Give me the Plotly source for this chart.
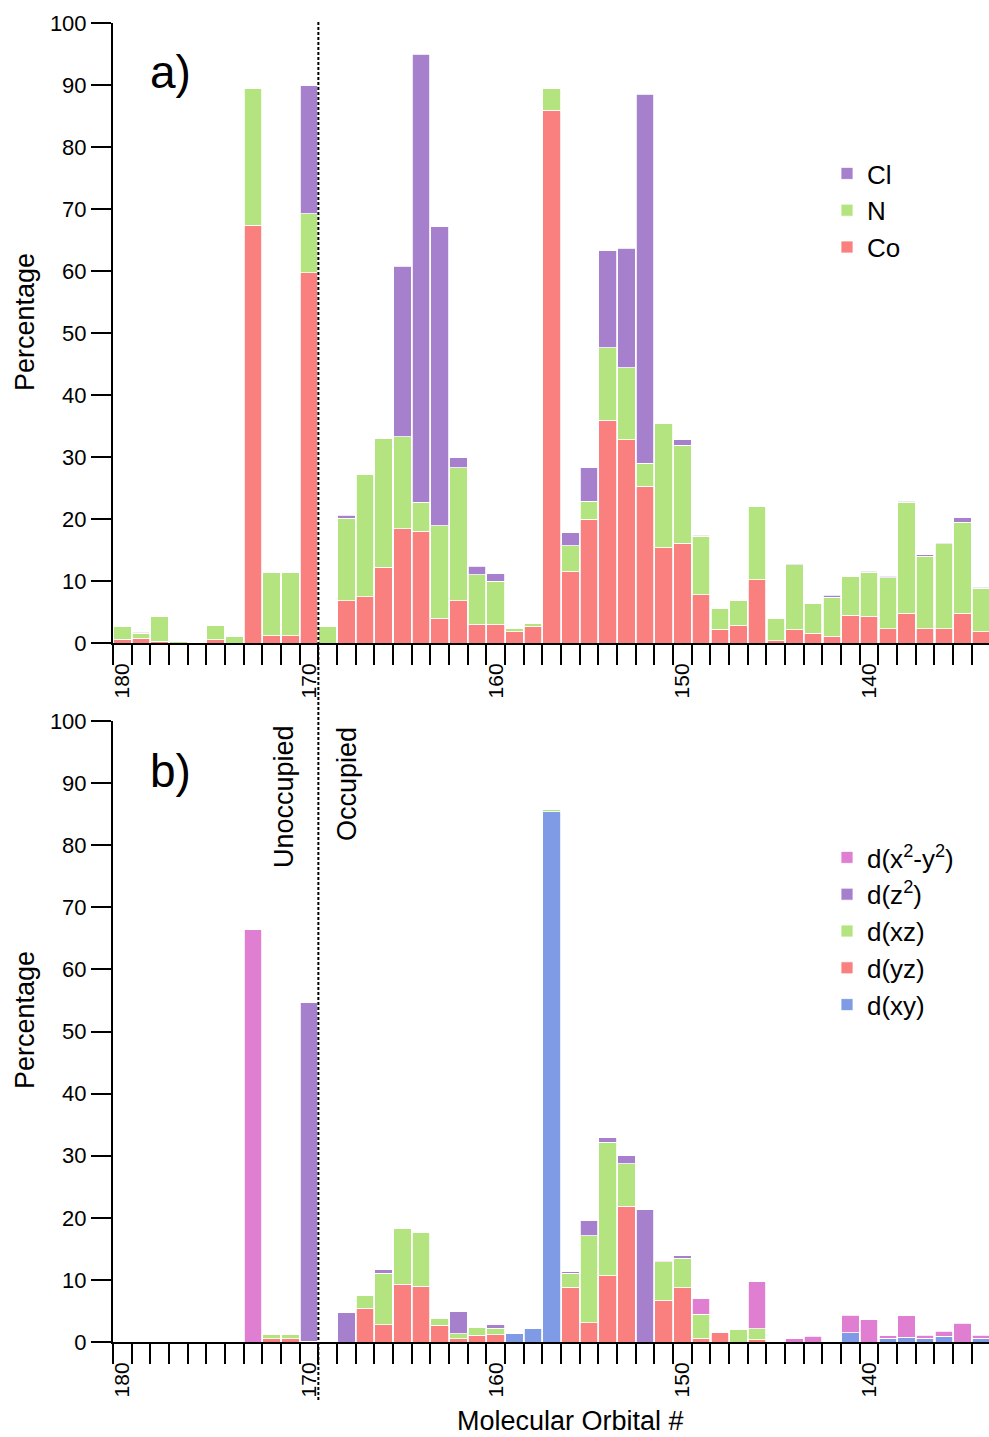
import plotly.graph_objects as go

# ---------------- data ----------------
mo = list(range(180, 133, -1))  # 180 ... 134

# panel a: atomic contributions (stacked segments, %)
co = [0.6, 0.8, 0.3, 0.0, 0.0, 0.5, 0.0, 67.4, 1.2, 1.2,
      59.7, 0.0, 6.8, 7.5, 12.2, 18.4, 18.0, 4.0, 6.8, 3.0,
      3.0, 1.8, 2.7, 85.9, 11.5, 20.0, 35.9, 32.8, 25.3, 15.4,
      16.1, 7.8, 2.2, 2.8, 10.2, 0.4, 2.1, 1.6, 1.1, 4.5,
      4.3, 2.3, 4.8, 2.3, 2.3, 4.8, 1.8]
n = [2.1, 0.8, 4.0, 0.2, 0.1, 2.4, 1.0, 22.0, 10.1, 10.1,
     9.5, 2.6, 13.3, 19.7, 20.8, 14.9, 4.7, 14.9, 21.5, 8.0,
     7.0, 0.5, 0.5, 3.6, 4.2, 2.9, 11.7, 11.6, 3.7, 20.0,
     15.8, 9.4, 3.4, 4.1, 11.8, 3.6, 10.5, 4.7, 6.3, 6.3,
     7.1, 8.2, 17.9, 11.7, 13.7, 14.7, 7.0]
cl = [0.0, 0.1, 0.0, 0.0, 0.0, 0.0, 0.0, 0.0, 0.0, 0.0,
      20.7, 0.0, 0.5, 0.0, 0.0, 27.5, 72.3, 48.2, 1.6, 1.4,
      1.2, 0.0, 0.0, 0.0, 2.1, 5.4, 15.7, 19.3, 59.5, 0.0,
      0.9, 0.2, 0.0, 0.0, 0.0, 0.0, 0.2, 0.0, 0.3, 0.0,
      0.2, 0.3, 0.2, 0.2, 0.2, 0.7, 0.2]

# panel b: Co d-orbital contributions (stacked segments, %)
d_xy = [0.0, 0.0, 0.0, 0.0, 0.0, 0.0, 0.0, 0.0, 0.0, 0.0,
        0.0, 0.0, 0.0, 0.0, 0.0, 0.0, 0.0, 0.0, 0.0, 0.0,
        0.0, 1.4, 2.2, 85.4, 0.0, 0.0, 0.0, 0.0, 0.0, 0.0,
        0.0, 0.0, 0.0, 0.0, 0.0, 0.0, 0.0, 0.0, 0.0, 1.5,
        0.0, 0.6, 0.75, 0.6, 0.9, 0.0, 0.6]
d_yz = [0.0, 0.0, 0.0, 0.0, 0.0, 0.1, 0.0, 0.0, 0.5, 0.5,
        0.1, 0.0, 0.0, 5.4, 2.8, 9.3, 9.0, 2.7, 0.5, 1.1,
        1.2, 0.0, 0.0, 0.0, 8.8, 3.1, 10.7, 21.9, 0.0, 6.7,
        8.7, 0.6, 1.5, 0.0, 0.4, 0.0, 0.0, 0.0, 0.0, 0.0,
        0.0, 0.0, 0.0, 0.0, 0.0, 0.0, 0.0]
d_xz = [0.0, 0.0, 0.1, 0.0, 0.0, 0.0, 0.0, 0.0, 0.7, 0.7,
        0.0, 0.0, 0.0, 2.1, 8.3, 8.9, 8.6, 1.1, 0.8, 1.3,
        1.0, 0.0, 0.0, 0.4, 2.3, 14.0, 21.5, 6.8, 0.0, 6.2,
        4.8, 3.9, 0.0, 2.0, 1.7, 0.0, 0.0, 0.0, 0.0, 0.0,
        0.0, 0.0, 0.0, 0.0, 0.0, 0.0, 0.0]
d_z2 = [0.0, 0.0, 0.0, 0.0, 0.0, 0.0, 0.0, 0.0, 0.0, 0.0,
        54.5, 0.0, 4.8, 0.0, 0.5, 0.0, 0.0, 0.0, 3.6, 0.0,
        0.6, 0.0, 0.0, 0.0, 0.3, 2.5, 0.7, 1.4, 21.3, 0.0,
        0.5, 0.0, 0.0, 0.0, 0.0, 0.0, 0.0, 0.0, 0.0, 0.0,
        0.0, 0.0, 0.0, 0.0, 0.0, 0.0, 0.0]
d_x2y2 = [0.0, 0.0, 0.0, 0.0, 0.0, 0.0, 0.0, 66.4, 0.0, 0.0,
          0.0, 0.0, 0.0, 0.0, 0.0, 0.0, 0.0, 0.0, 0.0, 0.0,
          0.0, 0.0, 0.0, 0.0, 0.0, 0.0, 0.0, 0.0, 0.0, 0.2,
          0.0, 2.5, 0.0, 0.0, 7.6, 0.0, 0.5, 0.9, 0.0, 2.8,
          3.6, 0.4, 3.45, 0.5, 0.8, 3.0, 0.5]

tick_vals = [180, 170, 160, 150, 140]
tick_text = ["180", "170", "160", "150", "140"]
bin_edges = [v + 0.5 for v in range(180, 133, -1)]
y_ticks = list(range(0, 101, 10))

# ---------------- styling ----------------
FONT = "Liberation Sans, Arial, sans-serif"
C_CO = "#FA7F7F"
C_N = "#B3E47F"
C_CL = "#A680CC"
C_PINK = "#E07FD1"
C_BLUE = "#7F9BE5"

W, H = 989, 1437
L = 113
XR = [180.5, 180.5 - (W - L) / 18.67]


def py(pix):
    return 1 - pix / H


fig = go.Figure()

bar_kw = dict(marker_line_width=0.8, marker_line_color="white", hoverinfo="skip")

for name, vals, col in [("Co", co, C_CO), ("N", n, C_N), ("Cl", cl, C_CL)]:
    fig.add_trace(go.Bar(x=mo, y=vals, name=name, marker_color=col,
                         xaxis="x", yaxis="y", legend="legend", **bar_kw))

for name, vals, col in [("d(xy)", d_xy, C_BLUE), ("d(yz)", d_yz, C_CO),
                        ("d(xz)", d_xz, C_N), ("d(z<sup>2</sup>)", d_z2, C_CL),
                        ("d(x<sup>2</sup>-y<sup>2</sup>)", d_x2y2, C_PINK)]:
    fig.add_trace(go.Bar(x=mo, y=vals, name=name, marker_color=col,
                         xaxis="x2", yaxis="y2", legend="legend2", **bar_kw))

xaxis_common = dict(
    range=XR, autorange=False,
    tickmode="array", tickvals=tick_vals, ticktext=tick_text,
    tickangle=-90, ticks="outside", ticklen=10, tickcolor="rgba(0,0,0,0)",
    tickfont=dict(size=21, color="black", family=FONT),
    showline=True, linecolor="black", linewidth=2,
    showgrid=False, zeroline=False, automargin=False,
    minor=dict(tickmode="array", tickvals=bin_edges, ticks="outside",
               ticklen=20, tickwidth=2, tickcolor="black", showgrid=False),
)
yaxis_common = dict(
    range=[0, 100], autorange=False,
    tickmode="array", tickvals=y_ticks,
    ticks="outside", ticklen=20, tickwidth=2, tickcolor="black",
    tickfont=dict(size=22, color="black", family=FONT),
    showline=True, linecolor="black", linewidth=2,
    showgrid=False, zeroline=False, automargin=False,
)

fig.update_layout(
    template="none",
    width=W, height=H,
    margin=dict(l=L, r=0, t=0, b=0),
    paper_bgcolor="white", plot_bgcolor="white",
    font=dict(family=FONT, color="black"),
    barmode="stack", bargap=0.06,
    showlegend=True,
    xaxis=dict(anchor="y", domain=[0, 1], **xaxis_common),
    xaxis2=dict(anchor="y2", domain=[0, 1], **xaxis_common),
    yaxis=dict(anchor="x", domain=[py(643), py(23)], **yaxis_common),
    yaxis2=dict(anchor="x2", domain=[py(1342), py(721)], **yaxis_common),
    legend=dict(x=(827 - L) / (W - L), y=py(150), xanchor="left", yanchor="top",
                traceorder="reversed", bgcolor="rgba(0,0,0,0)",
                font=dict(size=26, family=FONT, color="black")),
    legend2=dict(x=(827 - L) / (W - L), y=py(834), xanchor="left", yanchor="top",
                 traceorder="reversed", bgcolor="rgba(0,0,0,0)",
                 font=dict(size=26, family=FONT, color="black")),
)

# divider between unoccupied and occupied orbitals
fig.add_shape(type="line", xref="x", yref="paper", x0=169.5, x1=169.5,
              y0=py(1400), y1=py(22),
              line=dict(color="black", width=2, dash="3px,2px"))

ann_font = dict(family=FONT, color="black")
annotations = [
    dict(text="a)", x=(148 - L) / (W - L), y=py(72), xanchor="left", yanchor="middle",
         font=dict(size=46, **ann_font)),
    dict(text="b)", x=(148 - L) / (W - L), y=py(771), xanchor="left", yanchor="middle",
         font=dict(size=46, **ann_font)),
    dict(text="Percentage", x=(25 - L) / (W - L), y=py(322), textangle=-90,
         xanchor="center", yanchor="middle", font=dict(size=27, **ann_font)),
    dict(text="Percentage", x=(25 - L) / (W - L), y=py(1020), textangle=-90,
         xanchor="center", yanchor="middle", font=dict(size=27, **ann_font)),
    dict(text="Molecular Orbital #", x=(570 - L) / (W - L), y=py(1421),
         xanchor="center", yanchor="middle", font=dict(size=27, **ann_font)),
    dict(text="Unoccupied", x=(284 - L) / (W - L), y=py(797), textangle=-90,
         xanchor="center", yanchor="middle", font=dict(size=27, **ann_font)),
    dict(text="Occupied", x=(347 - L) / (W - L), y=py(784), textangle=-90,
         xanchor="center", yanchor="middle", font=dict(size=27, **ann_font)),
]
for a in annotations:
    fig.add_annotation(xref="paper", yref="paper", showarrow=False, **a)

fig.write_html("out.html")
